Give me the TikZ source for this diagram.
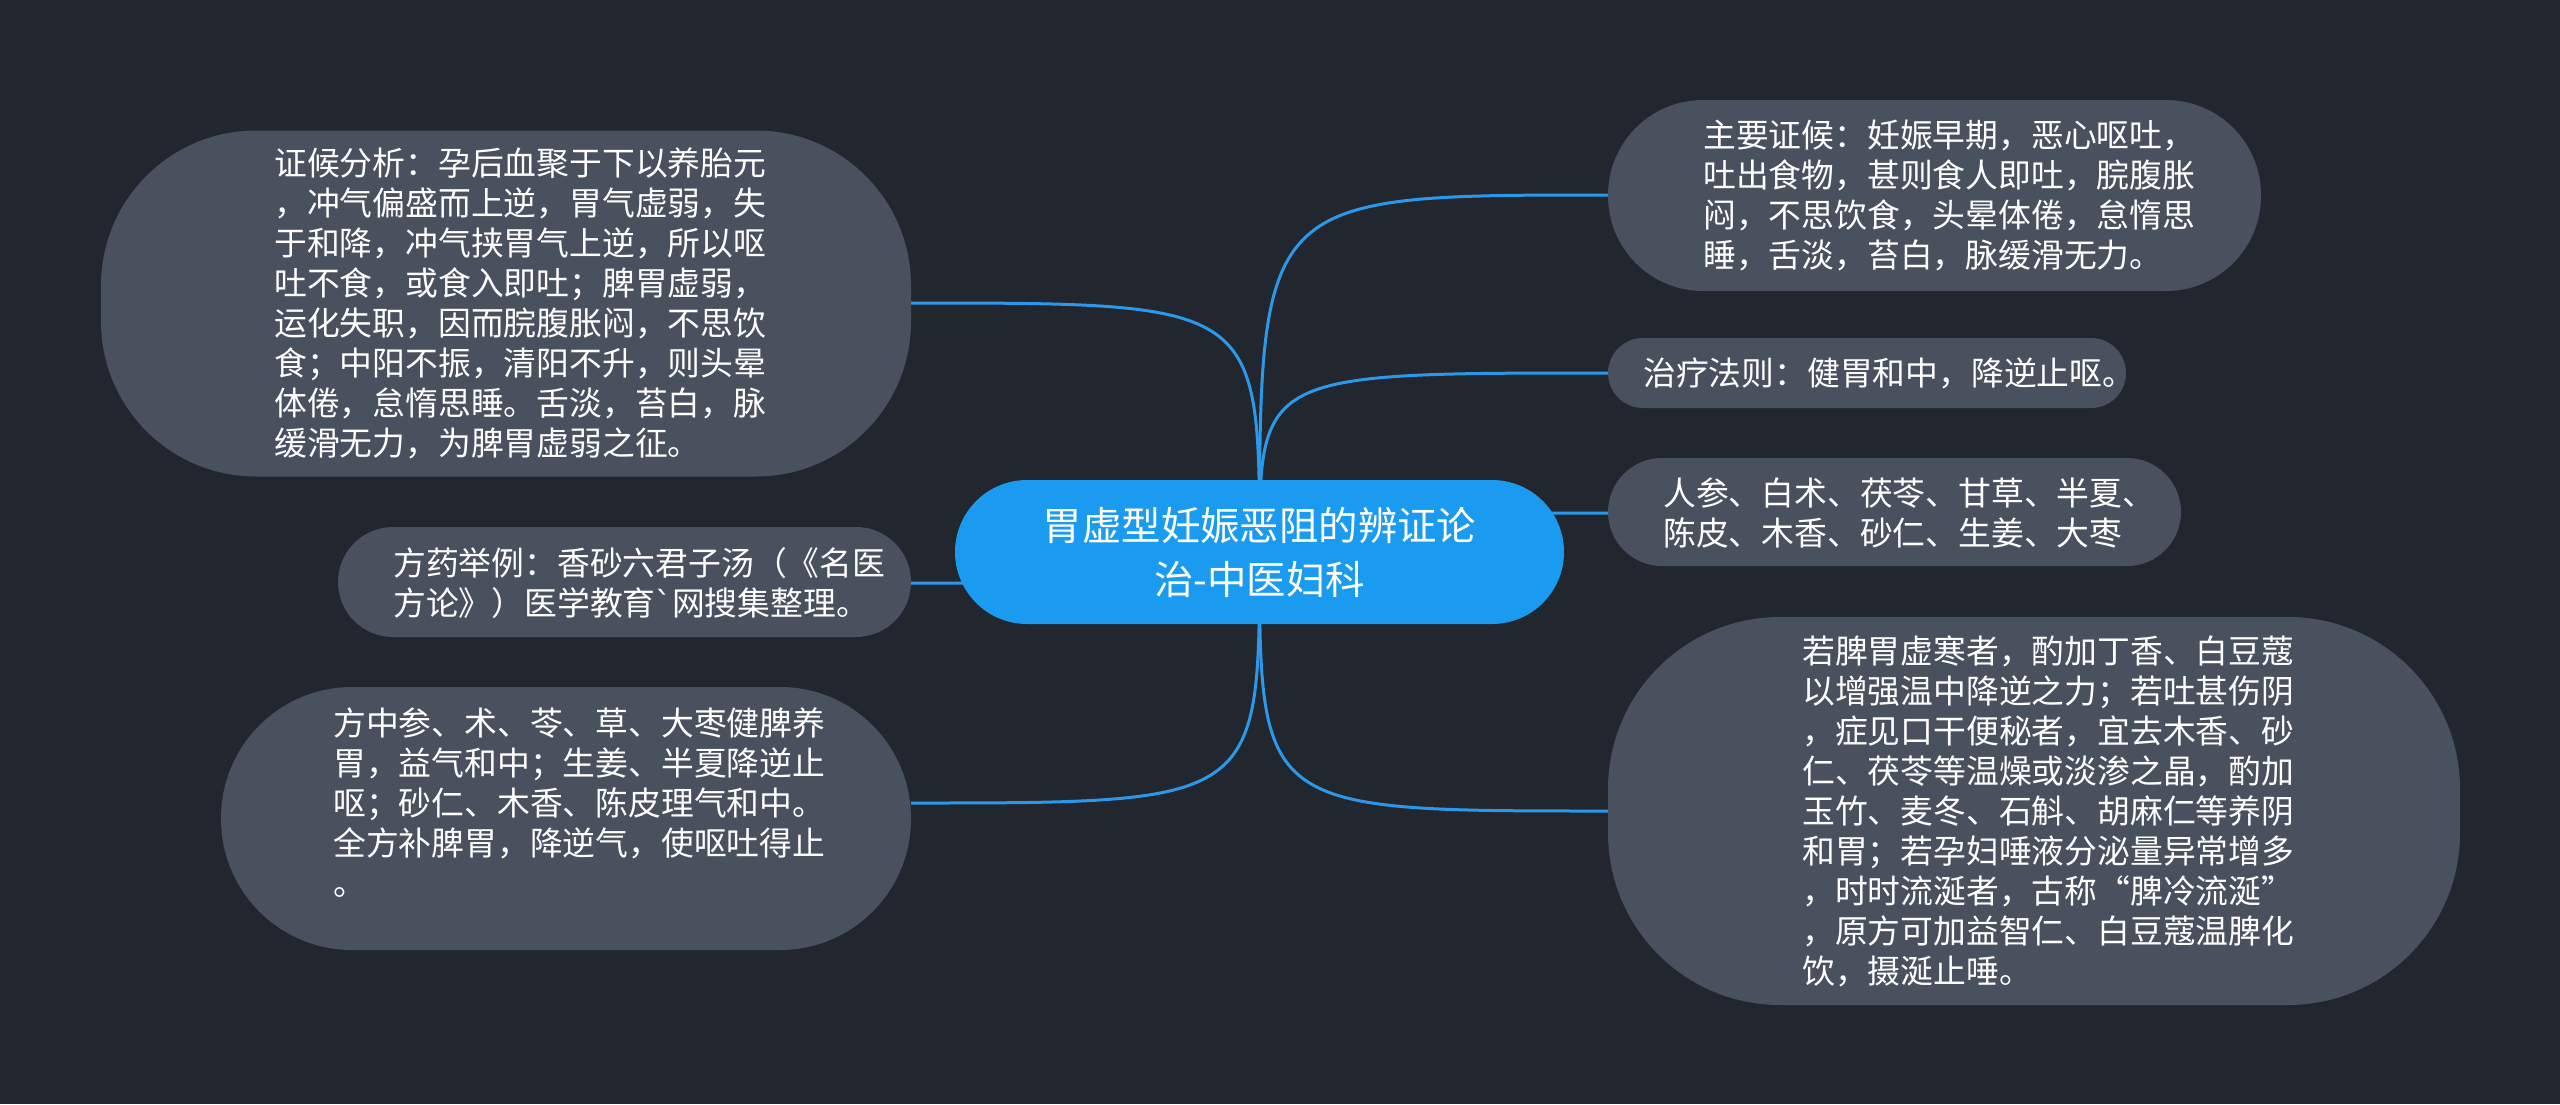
\documentclass[tikz,border=0pt]{standalone}
\usepackage{fontspec}
\setmainfont{Noto Sans CJK SC}
\newfontfamily\gravefont{DejaVu Sans}
\definecolor{bgc}{RGB}{34,38,47}
\definecolor{boxc}{RGB}{73,80,94}
\definecolor{rootc}{RGB}{26,155,240}
\definecolor{linec}{RGB}{44,152,234}
\pgfdeclarelayer{bgl}
\pgfdeclarelayer{lines}
\pgfsetlayers{bgl,lines,main}
\begin{document}
\begin{tikzpicture}[x=1pt,y=-1pt,
  box/.style={fill=boxc, rectangle, inner sep=0pt, anchor=center},
  rootbox/.style={fill=rootc, rectangle, rounded corners=72pt, minimum width=609pt, minimum height=144pt, inner sep=0pt, text=white, align=center, font=\fontsize{39.4}{54}\selectfont},
  txt/.style={anchor=west, inner sep=0pt, text=white, align=left, text width=560pt, font=\fontsize{32.8}{40}\selectfont},
  conn/.style={draw=linec, line width=3pt}]
\begin{pgfonlayer}{bgl}
\fill[bgc] (0,0) rectangle (2560,1104);
\end{pgfonlayer}
\useasboundingbox (0,0) rectangle (2560,1104);

% root
\node[rootbox] (root) at (1259.5,552) {胃虚型妊娠恶阻的辨证论\\治-中医妇科};

% right side
\node[box, minimum width=653pt, minimum height=191pt, rounded corners=95pt] (r1) at (1934.5,195.5) {};
\node[txt] (r1t) at (1703,195) {主要证候：妊娠早期，恶心呕吐，\\吐出食物，甚则食人即吐，脘腹胀\\闷，不思饮食，头晕体倦，怠惰思\\睡，舌淡，苔白，脉缓滑无力。};

\node[box, minimum width=518pt, minimum height=70pt, rounded corners=35pt] (r2) at (1867,373) {};
\node[txt] (r2t) at (1643,373) {治疗法则：健胃和中，降逆止呕。};

\node[box, minimum width=573pt, minimum height=108pt, rounded corners=54pt] (r3) at (1894.5,512) {};
\node[txt] (r3t) at (1663,513) {人参、白术、茯苓、甘草、半夏、\\陈皮、木香、砂仁、生姜、大枣};

\node[box, minimum width=852pt, minimum height=388pt, rounded corners=172pt] (r4) at (2034,811) {};
\node[txt] (r4t) at (1802,811) {若脾胃虚寒者，酌加丁香、白豆蔻\\以增强温中降逆之力；若吐甚伤阴\\，症见口干便秘者，宜去木香、砂\\仁、茯苓等温燥或淡渗之晶，酌加\\玉竹、麦冬、石斛、胡麻仁等养阴\\和胃；若孕妇唾液分泌量异常增多\\，时时流涎者，古称“脾冷流涎”\\，原方可加益智仁、白豆蔻温脾化\\饮，摄涎止唾。};

% left side
\node[box, minimum width=810pt, minimum height=346pt, rounded corners=155pt] (l1) at (506,303.5) {};
\node[txt] (l1t) at (274,303) {证候分析：孕后血聚于下以养胎元\\，冲气偏盛而上逆，胃气虚弱，失\\于和降，冲气挟胃气上逆，所以呕\\吐不食，或食入即吐；脾胃虚弱，\\运化失职，因而脘腹胀闷，不思饮\\食；中阳不振，清阳不升，则头晕\\体倦，怠惰思睡。舌淡，苔白，脉\\缓滑无力，为脾胃虚弱之征。};

\node[box, minimum width=573pt, minimum height=110pt, rounded corners=55pt] (l2) at (624.5,582) {};
\node[txt] (l2t) at (393,583) {方药举例：香砂六君子汤（《名医\\方论》）医学教育{\gravefont ˋ}网搜集整理。};

\node[box, minimum width=690pt, minimum height=263pt, rounded corners=131pt] (l3) at (566,818.5) {};
\node[txt] (l3t) at (333,803) {方中参、术、苓、草、大枣健脾养\\胃，益气和中；生姜、半夏降逆止\\呕；砂仁、木香、陈皮理气和中。\\全方补脾胃，降逆气，使呕吐得止\\。};

% connectors
\begin{pgfonlayer}{lines}
\draw[conn] (root.center) .. controls (root.center |- r1t.center) .. (r1t.center -| r1.west);
\draw[conn] (root.center) .. controls (root.center |- r2t.center) .. (r2t.center -| r2.west);
\draw[conn] (root.center) .. controls (root.center |- r3t.center) .. (r3t.center -| r3.west);
\draw[conn] (root.center) .. controls (root.center |- r4t.center) .. (r4t.center -| r4.west);
\draw[conn] (root.center) .. controls (root.center |- l1t.center) .. (l1t.center -| l1.east);
\draw[conn] (root.center) .. controls (root.center |- l2t.center) .. (l2t.center -| l2.east);
\draw[conn] (root.center) .. controls (root.center |- l3t.center) .. (l3t.center -| l3.east);
\end{pgfonlayer}
\end{tikzpicture}
\end{document}
